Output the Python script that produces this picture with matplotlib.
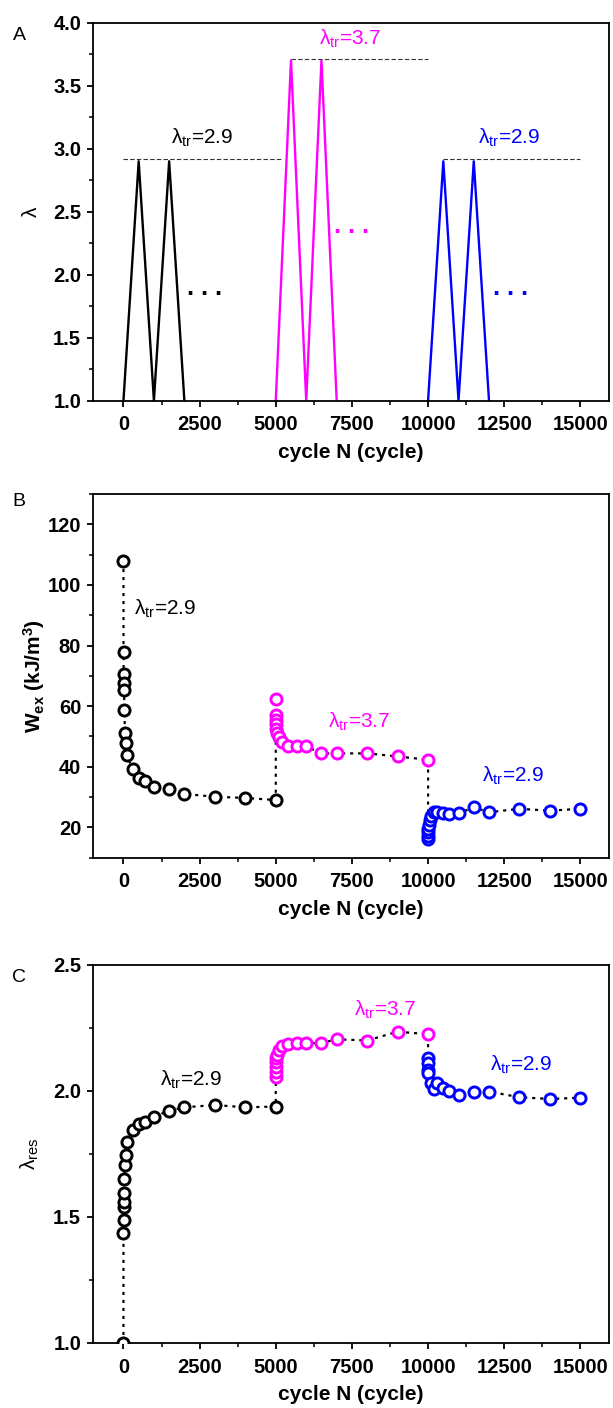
import numpy as np
import matplotlib
matplotlib.use('Agg')
import matplotlib.pyplot as plt
from matplotlib.ticker import MultipleLocator

plt.rcParams['font.family'] = ['Liberation Sans', 'DejaVu Sans']
plt.rcParams['mathtext.fontset'] = 'custom'
plt.rcParams['mathtext.rm'] = 'Liberation Sans'
plt.rcParams['mathtext.it'] = 'Liberation Sans:italic'
plt.rcParams['mathtext.bf'] = 'Liberation Sans:bold'

BLACK = '#000000'
MAGENTA = '#ff00ff'
BLUE = '#0000ff'

# panel A : loading history
cycA_1 = [0, 500, 1000, 1500, 2000]
lamA_1 = [1.0, 2.9, 1.0, 2.9, 1.0]
cycA_2 = [5000, 5500, 6000, 6500, 7000]
lamA_2 = [1.0, 3.7, 1.0, 3.7, 1.0]
cycA_3 = [10000, 10500, 11000, 11500, 12000]
lamA_3 = [1.0, 2.9, 1.0, 2.9, 1.0]
ref_level = [2.92, 3.71, 2.92]
ref_start = [0, 5500, 10500]
ref_end = [5250, 10000, 15000]

# panel B : W_ex
cycB_1 = [1, 2, 5, 10, 20, 30, 50, 70, 100, 300, 500, 700, 1000, 1500, 2000, 3000, 4000, 5000]
wex_1 = [107.9, 77.8, 70.7, 67.6, 65.2, 58.6, 51.1, 47.8, 43.9, 39.3, 36.3, 35.2, 33.4, 32.7, 31.0, 30.1, 29.7, 29.0]
cycB_2 = [5001, 5002, 5005, 5010, 5020, 5050, 5100, 5200, 5400, 5700, 6000, 6500, 7000, 8000, 9000, 10000]
wex_2 = [62.2, 57.0, 55.5, 54.0, 52.5, 51.0, 49.7, 48.1, 47.0, 46.7, 46.7, 44.4, 44.4, 44.4, 43.4, 42.3]
cycB_3 = [10001, 10002, 10005, 10010, 10020, 10050, 10100, 10200, 10300, 10500, 10700, 11000, 11500, 12000, 13000, 14000, 15000]
wex_3 = [16.3, 17.2, 18.3, 19.5, 20.8, 22.3, 23.8, 25.0, 25.0, 24.6, 24.4, 24.6, 26.6, 25.0, 26.1, 25.5, 26.1]

# panel C : lambda_res
cycC_1 = [0, 1, 2, 5, 10, 20, 30, 50, 70, 100, 300, 500, 700, 1000, 1500, 2000, 3000, 4000, 5000]
lres_1 = [1.0, 1.435, 1.488, 1.541, 1.561, 1.594, 1.650, 1.706, 1.746, 1.796, 1.845, 1.869, 1.878, 1.898, 1.921, 1.935, 1.944, 1.935, 1.938]
cycC_2 = [5001, 5002, 5005, 5010, 5020, 5050, 5100, 5200, 5400, 5700, 6000, 6500, 7000, 8000, 9000, 10000]
lres_2 = [2.057, 2.077, 2.096, 2.116, 2.130, 2.143, 2.163, 2.179, 2.187, 2.192, 2.189, 2.190, 2.205, 2.200, 2.235, 2.225]
cycC_3 = [10001, 10002, 10005, 10010, 10100, 10200, 10300, 10500, 10700, 11000, 11500, 12000, 13000, 14000, 15000]
lres_3 = [2.130, 2.110, 2.083, 2.070, 2.033, 2.007, 2.031, 2.011, 2.000, 1.984, 1.997, 1.997, 1.975, 1.968, 1.973]

fig = plt.figure(figsize=(6.13, 14.08), dpi=100)
L, W = 0.1517, 0.8423
axA = fig.add_axes([L, 0.7154, W, 0.2685])
axB = fig.add_axes([L, 0.3909, W, 0.2582])
axC = fig.add_axes([L, 0.0462, W, 0.2685])

def style(ax):
    for s in ax.spines.values():
        s.set_linewidth(1.3)
    ax.tick_params(which='major', direction='out', length=4.5, width=1.3, labelsize=14.5)
    ax.tick_params(which='minor', direction='out', length=3, width=1.1)
    ax.tick_params(axis='x', pad=6)
    ax.tick_params(axis='y', pad=4)
    for t in ax.get_xticklabels() + ax.get_yticklabels():
        t.set_fontweight('bold')
    ax.set_xlim(-1000, 15950)
    ax.xaxis.set_major_locator(MultipleLocator(2500))
    ax.xaxis.set_minor_locator(MultipleLocator(1250))
    ax.set_xlabel('cycle N (cycle)', fontsize=15, fontweight='bold', labelpad=6)

# ---- A
axA.plot(cycA_1, lamA_1, color=BLACK, lw=1.7)
axA.plot(cycA_2, lamA_2, color=MAGENTA, lw=1.7)
axA.plot(cycA_3, lamA_3, color=BLUE, lw=1.7)
for lv, x0, x1 in zip(ref_level, ref_start, ref_end):
    axA.plot([x0, x1], [lv, lv], color='#333333', lw=0.8, ls=(0, (4, 2)))
axA.text(2600, 3.0, 'λ$_\\mathrm{tr}$=2.9', color=BLACK, fontsize=15, ha='center', va='bottom')
axA.text(7450, 3.78, 'λ$_\\mathrm{tr}$=3.7', color=MAGENTA, fontsize=15, ha='center', va='bottom')
axA.text(12650, 3.0, 'λ$_\\mathrm{tr}$=2.9', color=BLUE, fontsize=15, ha='center', va='bottom')
# the "more cycles" dots
for x, y, c in zip([2650, 7500, 12700], [1.8, 2.29, 1.8], [BLACK, MAGENTA, BLUE]):
    axA.text(x, y, '. . .', color=c, fontsize=18, fontweight='bold', ha='center', va='bottom')
axA.set_ylim(1.0, 4.0)
axA.yaxis.set_major_locator(MultipleLocator(0.5))
axA.yaxis.set_minor_locator(MultipleLocator(0.25))
axA.set_ylabel('λ', fontsize=15)
style(axA)
axA.yaxis.set_label_coords(-0.10, 0.5)

# ---- B and C scatter-lines
def series(ax, xs, ys):
    allx = np.concatenate(xs)
    ally = np.concatenate(ys)
    ax.plot(allx, ally, color=BLACK, lw=1.6, ls=(0, (1.4, 2.2)), zorder=2)
    for x, y, c in zip(xs, ys, [BLACK, MAGENTA, BLUE]):
        ax.plot(x, y, ls='none', marker='o', ms=8, mew=2.1, mec=c, mfc='white', zorder=3)

series(axB, [cycB_1, cycB_2, cycB_3], [wex_1, wex_2, wex_3])
axB.text(330, 92.2, 'λ$_\\mathrm{tr}$=2.9', color=BLACK, fontsize=15, ha='left', va='center')
axB.text(6720, 54.7, 'λ$_\\mathrm{tr}$=3.7', color=MAGENTA, fontsize=15, ha='left', va='center')
axB.text(11770, 37.1, 'λ$_\\mathrm{tr}$=2.9', color=BLUE, fontsize=15, ha='left', va='center')
axB.set_ylim(10, 130)
axB.yaxis.set_major_locator(MultipleLocator(20))
axB.yaxis.set_minor_locator(MultipleLocator(10))
axB.set_ylabel('W$_\\mathbf{ex}$ (kJ/m$^\\mathbf{3}$)', fontsize=15, fontweight='bold')
style(axB)
axB.yaxis.set_label_coords(-0.09, 0.5)

series(axC, [cycC_1, cycC_2, cycC_3], [lres_1, lres_2, lres_3])
axC.text(1200, 2.044, 'λ$_\\mathrm{tr}$=2.9', color=BLACK, fontsize=15, ha='left', va='center')
axC.text(7580, 2.32, 'λ$_\\mathrm{tr}$=3.7', color=MAGENTA, fontsize=15, ha='left', va='center')
axC.text(12040, 2.103, 'λ$_\\mathrm{tr}$=2.9', color=BLUE, fontsize=15, ha='left', va='center')
axC.set_ylim(1.0, 2.5)
axC.yaxis.set_major_locator(MultipleLocator(0.5))
axC.yaxis.set_minor_locator(MultipleLocator(0.25))
axC.set_ylabel('λ$_\\mathrm{res}$', fontsize=15)
style(axC)
axC.yaxis.set_label_coords(-0.10, 0.5)

for lab, y in zip(['A', 'B', 'C'], [35, 502, 977]):
    fig.text(19 / 613, 1 - y / 1408, lab, fontsize=14, ha='center', va='center')

fig.savefig('out.png', dpi=100)
